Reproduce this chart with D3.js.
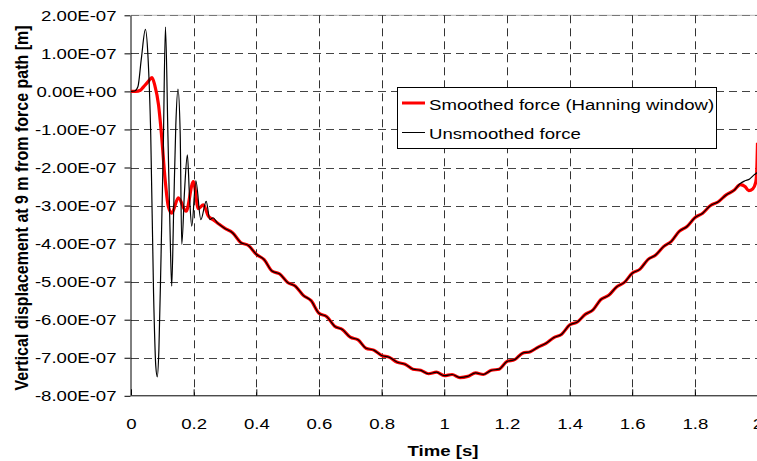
<!DOCTYPE html>
<html>
<head>
<meta charset="utf-8">
<script src="https://cdn.jsdelivr.net/npm/d3@7"></script>
<style>
  html, body { margin: 0; padding: 0; background: #fff; }
  svg { display: block; font-family: "Liberation Sans", Arial, sans-serif; }
</style>
</head>
<body>
<svg id="chart" width="757" height="461"></svg>
<script>
// values in units of 1e-7 m, time in s
const UNIT = 1e-7;

const xTicks = [0, 0.2, 0.4, 0.6, 0.8, 1, 1.2, 1.4, 1.6, 1.8, 2];
const xTickLabels = ["0", "0.2", "0.4", "0.6", "0.8", "1", "1.2", "1.4", "1.6", "1.8", "2"];
const yTicks = [2, 1, 0, -1, -2, -3, -4, -5, -6, -7, -8];
const yTickLabels = ["2.00E-07", "1.00E-07", "0.00E+00", "-1.00E-07", "-2.00E-07", "-3.00E-07",
  "-4.00E-07", "-5.00E-07", "-6.00E-07", "-7.00E-07", "-8.00E-07"];

// start of the smoothed (Hanning window) response
const smoothStart = [
  [0, 0], [0.015, 0], [0.03, 0.03], [0.04, 0.12], [0.054, 0.25], [0.067, 0.36],
  [0.076, 0.16], [0.088, -0.36], [0.097, -1.1], [0.109, -2.32], [0.119, -3.02],
  [0.13, -3.2], [0.151, -2.8], [0.176, -3.15], [0.199, -2.37], [0.215, -3.08],
  [0.231, -2.98], [0.247, -3.28], [0.262, -3.37]
];

// start of the unsmoothed response
const rawStart = [
  [0, 0], [0.012, 0.01], [0.022, 0.12], [0.033, 0.86], [0.046, 1.63], [0.054, 0.95],
  [0.063, -1.14], [0.072, -5.3], [0.079, -7.2], [0.084, -7.5], [0.089, -6.8],
  [0.096, -4.3], [0.103, -1.5], [0.11, 1.69], [0.118, -1.2], [0.125, -3.8],
  [0.13, -5.12], [0.136, -3.2], [0.143, -0.9], [0.15, 0.06], [0.157, -1.1],
  [0.162, -4.02], [0.171, -2.6], [0.18, -1.67], [0.187, -2.8], [0.194, -3.54],
  [0.207, -2.35], [0.223, -3.37], [0.24, -2.89], [0.252, -3.37], [0.262, -3.32]
];

// part where both curves coincide
const sharedPath = [
  [0.275, -3.45], [0.3, -3.6], [0.325, -3.72], [0.35, -3.97], [0.375, -4.05], [0.4, -4.28],
  [0.425, -4.42], [0.45, -4.72], [0.475, -4.8], [0.5, -5.02], [0.525, -5.12], [0.55, -5.36],
  [0.575, -5.5], [0.6, -5.83], [0.625, -5.92], [0.65, -6.17], [0.675, -6.26], [0.7, -6.46],
  [0.725, -6.53], [0.75, -6.75], [0.775, -6.8], [0.8, -6.94], [0.825, -6.99], [0.85, -7.12],
  [0.875, -7.17], [0.9, -7.3], [0.925, -7.33], [0.95, -7.42], [0.975, -7.38], [1.0, -7.47],
  [1.025, -7.44], [1.05, -7.52], [1.075, -7.49], [1.1, -7.4], [1.125, -7.44], [1.15, -7.33],
  [1.175, -7.3], [1.2, -7.1], [1.225, -7.05], [1.25, -6.88], [1.275, -6.84], [1.3, -6.72],
  [1.325, -6.62], [1.35, -6.47], [1.375, -6.38], [1.4, -6.14], [1.425, -6.06], [1.45, -5.86],
  [1.475, -5.74], [1.5, -5.47], [1.525, -5.36], [1.55, -5.14], [1.575, -5.02], [1.6, -4.78],
  [1.625, -4.67], [1.65, -4.42], [1.675, -4.3], [1.7, -4.08], [1.725, -3.94], [1.75, -3.68],
  [1.775, -3.55], [1.8, -3.32], [1.825, -3.2], [1.85, -3.0], [1.875, -2.9], [1.9, -2.72],
  [1.925, -2.6]
];

const smoothEnd = [
  [1.945, -2.45], [1.96, -2.5], [1.972, -2.61], [1.985, -2.56], [1.994, -2.4], [1.997, -2.2], [2.0, -1.35]
];
const rawEnd = [
  [1.945, -2.42], [1.96, -2.35], [1.975, -2.3], [1.988, -2.2], [2.0, -2.13]
];

const seriesNames = ["Smoothed force (Hanning window)", "Unsmoothed force"];

const SX = 1.2; // the reference text is drawn slightly wide
const FONT = 15.5;

const svg = d3.select("#chart");

const x = d3.scaleLinear().domain([0, 2]).range([131, 757.5]);
const y = d3.scaleLinear().domain([-8 * UNIT, 2 * UNIT]).range([395.8, 15.3]);

// plot top border
svg.append("line")
  .attr("x1", x(0)).attr("x2", 757)
  .attr("y1", y(2 * UNIT)).attr("y2", y(2 * UNIT))
  .attr("stroke", "#b8b8b8").attr("stroke-width", 1);

// horizontal gridlines
svg.append("g")
  .selectAll("line")
  .data(yTicks.filter((d) => d > -8))
  .join("line")
  .attr("x1", x(0))
  .attr("x2", 757)
  .attr("y1", (d) => Math.round(y(d * UNIT)) + 0.5)
  .attr("y2", (d) => Math.round(y(d * UNIT)) + 0.5)
  .attr("stroke", (d) => (d === 2 ? "#777" : "#444"))
  .attr("stroke-width", 1)
  .attr("stroke-dasharray", "8,5");

// vertical gridlines
svg.append("g")
  .selectAll("line")
  .data(xTicks.filter((d) => d > 0))
  .join("line")
  .attr("x1", (d) => Math.round(x(d)) + 0.5)
  .attr("x2", (d) => Math.round(x(d)) + 0.5)
  .attr("y1", y(2 * UNIT))
  .attr("y2", y(-8 * UNIT))
  .attr("stroke", "#333")
  .attr("stroke-width", 1)
  .attr("stroke-dasharray", "8,5");

// axes
const yAxis = svg.append("g")
  .attr("transform", `translate(${x(0) - 0.5},0)`)
  .call(d3.axisLeft(y)
    .tickValues(yTicks.map((d) => d * UNIT))
    .tickSizeInner(6)
    .tickSizeOuter(0)
    .tickFormat((d, i) => yTickLabels[i]));

yAxis.selectAll("text")
  .attr("x", -14 / SX)
  .attr("dy", "0.33em")
  .attr("transform", `scale(${SX},1)`)
  .style("font-size", FONT + "px")
  .style("font-family", "'Liberation Sans', Arial, sans-serif")
  .attr("fill", "#000");

const xAxis = svg.append("g")
  .attr("transform", `translate(0,${y(-8 * UNIT) - 0.5})`)
  .call(d3.axisBottom(x)
    .tickValues(xTicks)
    .tickSizeInner(-6)
    .tickSizeOuter(0)
    .tickFormat((d, i) => xTickLabels[i]));

xAxis.selectAll("text")
  .attr("y", 34)
  .attr("dy", 0)
  .attr("x", 0)
  .attr("transform", `scale(${SX},1)`)
  .style("font-size", FONT + "px")
  .style("font-family", "'Liberation Sans', Arial, sans-serif")
  .attr("fill", "#000");

svg.selectAll(".domain, .tick line").attr("stroke", "#000");

// lines
const line = d3.line()
  .x((d) => x(d[0]))
  .y((d) => y(d[1] * UNIT))
  .curve(d3.curveMonotoneX);

const smoothed = smoothStart.concat(sharedPath, smoothEnd);
const raw = rawStart.concat(sharedPath, rawEnd);

svg.append("path")
  .datum(smoothed)
  .attr("d", line)
  .attr("fill", "none")
  .attr("stroke", "#ff0000")
  .attr("stroke-width", 3.2)
  .attr("stroke-linejoin", "round");

svg.append("path")
  .datum(raw)
  .attr("d", line)
  .attr("fill", "none")
  .attr("stroke", "#000")
  .attr("stroke-width", 1.2);

// legend
const legend = svg.append("g");
legend.append("rect")
  .attr("x", 397.5).attr("y", 87.5)
  .attr("width", 319).attr("height", 61)
  .attr("fill", "#fff").attr("stroke", "#000");

const legendItems = [
  { name: seriesNames[0], color: "#ff0000", width: 3, y: 103 },
  { name: seriesNames[1], color: "#000", width: 1, y: 132.5 }
];

legend.selectAll("line")
  .data(legendItems)
  .join("line")
  .attr("x1", 402).attr("x2", 425)
  .attr("y1", (d) => d.y).attr("y2", (d) => d.y)
  .attr("stroke", (d) => d.color)
  .attr("stroke-width", (d) => d.width);

legend.selectAll("text")
  .data(legendItems)
  .join("text")
  .attr("transform", (d) => `translate(429,${d.y + 6.5}) scale(${SX},1)`)
  .style("font-size", FONT + "px")
  .text((d) => d.name);

// axis titles
svg.append("text")
  .attr("transform", `translate(443,456) scale(${SX},1)`)
  .attr("text-anchor", "middle")
  .style("font-size", FONT + "px")
  .style("font-weight", "bold")
  .text("Time [s]");

svg.append("text")
  .attr("transform", `translate(28,208) scale(${SX},1) rotate(-90)`)
  .attr("text-anchor", "middle")
  .style("font-size", "16px")
  .style("font-weight", "bold")
  .text("Vertical displacement at 9 m from force path [m]");
</script>
</body>
</html>
